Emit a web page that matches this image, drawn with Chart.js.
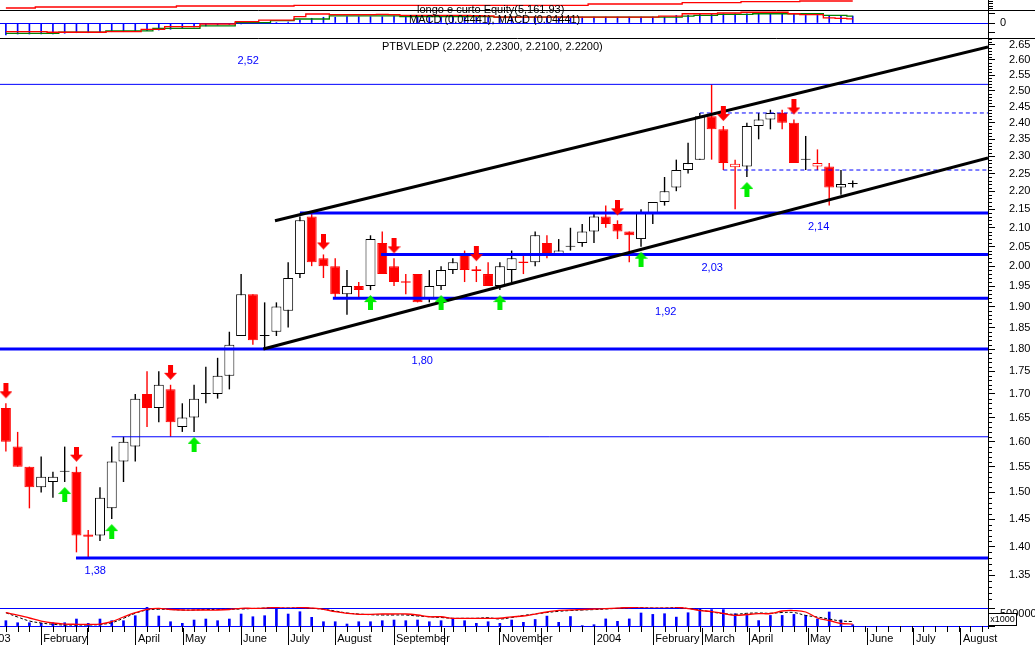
<!DOCTYPE html>
<html>
<head>
<meta charset="utf-8">
<title>PTBVLEDP</title>
<script src="https://cdn.jsdelivr.net/npm/chart.js@4.4.1/dist/chart.umd.min.js"></script>
<style>
  html, body { margin: 0; padding: 0; background: #fff; }
  #box { width: 1035px; height: 645px; }
</style>
</head>
<body>
<div id="box"><canvas id="chart"></canvas></div>
<script>
// weekly bars, index 0 = first week of january 2003
var opens = [1.67,1.59,1.55,1.51,1.52,1.54,1.54,1.422,1.42,1.47,
  1.56,1.59,1.70,1.67,1.71,1.63,1.65,1.70,1.70,1.74,
  1.83,1.93,1.83,1.84,1.89,1.98,2.13,2.02,2.00,1.93,
  1.95,1.95,2.06,2.00,1.962,1.98,1.92,1.95,1.99,2.03,
  1.992,1.98,1.95,1.99,2.012,2.01,2.06,2.03,2.05,2.06,
  2.09,2.13,2.11,2.09,2.07,2.14,2.17,2.21,2.26,2.29,
  2.42,2.38,2.268,2.27,2.39,2.41,2.43,2.40,2.29,2.27,
  2.27,2.21,2.22];
var highs = [1.68,1.62,1.55,1.57,1.54,1.59,1.55,1.43,1.51,1.59,
  1.61,1.70,1.75,1.75,1.72,1.68,1.72,1.76,1.78,1.84,
  1.98,1.93,1.91,1.91,2.01,2.13,2.14,2.03,2.02,1.99,
  1.96,2.08,2.09,2.02,1.98,1.98,1.99,2.00,2.02,2.04,
  2.00,2.01,2.01,2.04,2.03,2.09,2.08,2.07,2.10,2.11,
  2.14,2.16,2.12,2.09,2.15,2.17,2.24,2.29,2.34,2.43,
  2.52,2.39,2.29,2.40,2.43,2.44,2.44,2.41,2.36,2.32,
  2.28,2.26,2.23];
var lows = [1.58,1.55,1.47,1.50,1.49,1.52,1.39,1.38,1.41,1.45,
  1.52,1.56,1.63,1.64,1.61,1.62,1.62,1.68,1.69,1.71,
  1.83,1.81,1.80,1.83,1.85,1.97,2.00,1.97,1.92,1.88,
  1.92,1.94,1.98,1.95,1.93,1.91,1.91,1.94,1.98,1.96,
  1.96,1.95,1.94,1.96,1.98,2.00,2.02,2.03,2.04,2.05,
  2.06,2.10,2.07,2.01,2.05,2.11,2.16,2.20,2.25,2.29,
  2.29,2.26,2.15,2.24,2.35,2.38,2.38,2.28,2.26,2.26,
  2.16,2.19,2.21];
var closes = [1.60,1.55,1.51,1.53,1.53,1.54,1.42,1.418,1.49,1.56,
  1.60,1.69,1.67,1.72,1.64,1.65,1.69,1.70,1.74,1.81,
  1.93,1.82,1.83,1.90,1.97,2.12,2.01,2.00,1.93,1.95,
  1.94,2.07,1.98,1.96,1.958,1.91,1.95,1.99,2.01,1.99,
  1.988,1.95,2.00,2.02,2.008,2.08,2.03,2.04,2.05,2.09,
  2.13,2.11,2.09,2.08,2.14,2.17,2.20,2.26,2.28,2.42,
  2.38,2.28,2.278,2.39,2.41,2.43,2.40,2.28,2.29,2.28,
  2.21,2.22,2.22];

// volume in thousands + two averages
var volumes = [158,99,99,82,99,99,207,82,207,158,
  158,304,566,295,128,82,178,207,158,207,
  353,274,304,549,353,420,257,128,128,61,
  128,128,158,178,158,178,128,158,199,158,
  82,128,82,178,111,193,292,111,280,15,
  41,210,140,210,383,342,362,263,391,491,
  482,482,362,312,161,312,312,342,312,210,
  412,181,41];
var volAvg = [391,324,237,149,91,61,53,53,61,128,
  266,391,491,520,485,470,470,470,470,485,
  520,520,528,549,566,549,528,491,420,374,
  345,345,353,353,353,324,274,274,228,228,
  228,228,230,270,295,353,412,461,470,485,
  499,511,528,543,558,561,561,558,511,455,
  426,368,312,339,362,368,441,455,412,237,
  164,76,61];
var volAvgSlow = [391,266,149,91,53,32,32,32,47,99,
  228,374,470,491,485,470,470,485,485,491,
  499,514,528,558,558,549,520,491,441,383,
  353,333,324,324,324,295,274,251,228,228,
  228,245,207,251,312,353,397,432,455,470,
  482,499,520,537,549,558,558,543,514,470,
  412,365,345,374,383,374,397,397,312,266,
  207,149,134];

// top panes
var macd = [-0.094,-0.094,-0.094,-0.094,-0.100,-0.100,-0.100,-0.100,-0.100,-0.094,
  -0.094,-0.094,-0.068,-0.068,-0.040,-0.040,-0.040,-0.011,-0.011,-0.011,
  0.014,0.014,0.032,0.032,0.032,0.068,0.097,0.097,0.090,0.090,
  0.090,0.090,0.094,0.090,0.083,0.083,0.083,0.083,0.083,0.083,
  0.079,0.076,0.064,0.064,0.064,0.064,0.064,0.064,0.064,0.064,
  0.064,0.064,0.064,0.064,0.064,0.064,0.075,0.075,0.100,0.100,
  0.100,0.108,0.108,0.116,0.116,0.116,0.116,0.100,0.090,0.090,
  0.056,0.051,0.04441];
var macdSignal = [-0.111,-0.111,-0.111,-0.111,-0.111,-0.100,-0.100,-0.100,-0.100,-0.086,
  -0.086,-0.086,-0.086,-0.057,-0.057,-0.057,-0.057,-0.032,-0.032,-0.032,
  0.003,0.003,0.003,0.025,0.025,0.043,0.043,0.043,0.076,0.076,
  0.076,0.076,0.076,0.076,0.068,0.068,0.068,0.068,0.068,0.068,
  0.068,0.068,0.064,0.064,0.064,0.064,0.064,0.064,0.064,0.064,
  0.064,0.064,0.064,0.064,0.064,0.064,0.064,0.064,0.075,0.082,
  0.082,0.093,0.093,0.093,0.100,0.100,0.100,0.100,0.100,0.100,
  0.082,0.082,0.075];
var macdHist = [-0.130,-0.119,-0.119,-0.119,-0.119,-0.111,-0.105,-0.105,-0.105,-0.094,
  -0.094,-0.083,-0.083,-0.076,-0.068,-0.057,-0.043,-0.032,-0.022,-0.016,
  -0.011,-0.005,0,0.005,0.011,0.032,0.051,0.062,0.062,0.068,
  0.068,0.068,0.068,0.076,0.068,0.068,0.068,0.068,0.068,0.068,
  0.068,0.068,0.064,0.064,0.064,0.064,0.064,0.064,0.064,0.064,
  0.064,0.064,0.064,0.064,0.064,0.064,0.064,0.082,0.082,0.100,
  0.100,0.100,0.100,0.100,0.100,0.100,0.100,0.100,0.082,0.082,
  0.082,0.075,0.075];
var equity = [2362,2362,2362,2762,2762,2762,2762,2762,2762,2762,
  2762,2762,2762,2762,2762,3162,3162,3162,3162,3162,
  3162,3162,3162,3162,3162,3400,3400,3400,3400,3400,
  3400,3400,3400,3400,3400,3400,3400,3400,3400,3400,
  3400,3400,3400,3400,3400,3400,3400,3400,3400,3400,
  3962,3962,3962,3962,3962,3962,3962,3962,4482,4482,
  4482,4482,4482,4882,4882,4882,4882,4882,5161.93,5161.93,
  5161.93,5161.93,5161.93];

// signals (week index)
var sellAt = [0, 6, 14, 27, 33, 40, 52, 61, 67];
var buyAt = [5, 9, 16, 31, 37, 42, 54, 63];

// drawn levels: value and week where they start
var supports = [2.14, 2.03, 1.92, 1.80, 1.38];
var supportFrom = [25, 31.9, 27.8, -0.5, 5.96];
var thinLevels = [2.52, 1.61];
var thinFrom = [-0.5, 9];
var dashLevels = [2.43, 2.26];
var dashFrom = [59, 61];
// trend channel: [week, price] pairs
var channelTop = [[22.88, 2.119], [83.5, 2.643]];
var channelBottom = [[21.89, 1.80], [83.5, 2.295]];

// axis ticks
var monthTicks = [-1.85, 3, 6.9, 11.06, 15.06, 20, 24, 28, 33, 37.3, 42, 45.5, 50.06, 55.05, 59.2, 63.2, 68.2, 73.25, 77.2, 81.2];
var monthLabels = ['2003', 'February', '', 'April', 'May', 'June', 'July', 'August', 'September', '', 'November', '', '2004', 'February', 'March', 'April', 'May', 'June', 'July', 'August'];
var priceTicks = [1.35,1.40,1.45,1.50,1.55,1.60,1.65,1.70,1.75,1.80,1.85,1.90,1.95,2.00,2.05,2.10,2.15,2.20,2.25,2.30,2.35,2.40,2.45,2.50,2.55,2.60,2.65];

var FONT = '"Liberation Sans", Arial, sans-serif';
var BLUE = '#0000ff', RED = '#ff0000', GREEN = '#00ee00';
Chart.defaults.font.family = FONT;

function kind(i) {
  var o = opens[i], c = closes[i];
  if (c < o) return 'down';
  if (c === o) return 'flat';
  if (i > 0 && c < closes[i - 1]) return 'weak';
  return 'up';
}
function bodyFill(i) {
  var k = kind(i);
  return k == 'down' ? RED : (k == 'flat' ? '#000' : '#fff');
}
function redish(i) {
  var k = kind(i);
  return k == 'down' || k == 'weak';
}

function arrowIcon(color, down) {
  var c = document.createElement('canvas');
  c.width = 13; c.height = 40;
  var g = c.getContext('2d');
  g.fillStyle = color;
  g.beginPath();
  if (down) {
    g.rect(4, 0, 5, 9);
    g.moveTo(0, 8); g.lineTo(13, 8); g.lineTo(6.5, 15);
  } else {
    g.rect(4, 31, 5, 9);
    g.moveTo(6.5, 25); g.lineTo(13, 32); g.lineTo(0, 32);
  }
  g.closePath();
  g.fill();
  return c;
}

function fitRight(s) {
  s.width = 47;
  s.paddingTop = 0; s.paddingBottom = 0; s.paddingLeft = 0; s.paddingRight = 0;
}

var weeks = opens.map(function (o, i) { return i; });
function series(arr) {
  return arr.map(function (v, i) { return {x: i, y: v}; });
}
function levelSet(vals, from, width, color, dash) {
  return vals.map(function (v, k) {
    return {
      type: 'line', data: [{x: from[k], y: v}, {x: 83.5, y: v}], yAxisID: 'y',
      borderColor: color, borderWidth: width, borderDash: dash || [], pointRadius: 0, order: 4
    };
  });
}
function trend(pts) {
  return {
    type: 'line', data: pts.map(function (p) { return {x: p[0], y: p[1]}; }), yAxisID: 'y',
    borderColor: '#000', borderWidth: 3, pointRadius: 0, order: 3
  };
}

var datasets = [
  { type: 'bar', data: weeks.map(function (i) { return {x: i, y: [lows[i], highs[i]]}; }), yAxisID: 'y',
    barThickness: 1.4, grouped: false, inflateAmount: 0, borderWidth: 0,
    backgroundColor: function (c) { return redish(c.dataIndex) ? RED : '#000'; }, order: 7 },
  { type: 'bar', data: weeks.map(function (i) { return {x: i, y: [opens[i], closes[i]]}; }), yAxisID: 'y',
    barThickness: 10, grouped: false, inflateAmount: 0, minBarLength: 1, borderWidth: 1, borderSkipped: false,
    backgroundColor: function (c) { return bodyFill(c.dataIndex); },
    borderColor: function (c) { return redish(c.dataIndex) ? RED : '#000'; }, order: 6 },
  trend(channelTop),
  trend(channelBottom),
  { type: 'line', data: sellAt.map(function (i) { return {x: i, y: highs[i]}; }), yAxisID: 'y',
    showLine: false, pointStyle: arrowIcon(RED, true), pointRadius: 6, order: 1 },
  { type: 'line', data: buyAt.map(function (i) { return {x: i, y: lows[i]}; }), yAxisID: 'y',
    showLine: false, pointStyle: arrowIcon(GREEN, false), pointRadius: 6, order: 1 },
  { type: 'bar', data: series(volumes), yAxisID: 'vol', barThickness: 2, grouped: false,
    backgroundColor: BLUE, order: 9 },
  { type: 'line', data: series(volAvg), yAxisID: 'vol', borderColor: RED, borderWidth: 1.3,
    pointRadius: 0, tension: 0.4, order: 8 },
  { type: 'line', data: series(volAvgSlow), yAxisID: 'vol', borderColor: '#000', borderWidth: 1,
    borderDash: [3, 2], pointRadius: 0, tension: 0.4, order: 8 },
  { type: 'bar', data: series(macdHist), yAxisID: 'macd', barThickness: 1, grouped: false,
    backgroundColor: BLUE, order: 9 },
  { type: 'line', data: series(macd), yAxisID: 'macd', borderColor: RED, borderWidth: 1.3,
    pointRadius: 0, stepped: 'middle', order: 8 },
  { type: 'line', data: series(macdSignal), yAxisID: 'macd', borderColor: '#008000', borderWidth: 1.3,
    pointRadius: 0, stepped: 'middle', order: 8 },
  { type: 'line', data: series(equity), yAxisID: 'eq', borderColor: RED, borderWidth: 1.3,
    pointRadius: 0, stepped: 'middle', order: 8 }
].concat(levelSet(supports, supportFrom, 3, BLUE))
 .concat(levelSet(thinLevels, thinFrom, 1, BLUE))
 .concat(levelSet(dashLevels, dashFrom, 1, BLUE, [4, 3]));

var paneDecor = {
  id: 'paneDecor',
  afterDatasetsDraw: function (chart, args, opts) {
    var ctx = chart.ctx, xs = chart.scales.x, ys = chart.scales.y;
    ctx.save();
    ctx.fillStyle = BLUE;
    ctx.font = '11px ' + FONT;
    ctx.textAlign = 'center';
    ctx.textBaseline = 'middle';
    opts.levelLabels.forEach(function (l) {
      ctx.fillText(l.value.toFixed(2).replace('.', ','), xs.getPixelForValue(l.at), ys.getPixelForValue(l.value) + l.dy);
    });
    ctx.restore();
  },
  afterDraw: function (chart) {
    var ctx = chart.ctx, s = chart.scales, area = chart.chartArea;
    ctx.save();
    ctx.strokeStyle = '#000';
    ctx.lineWidth = 1;
    ctx.beginPath();
    [s.macd.top, s.y.top].forEach(function (t) {
      var yy = Math.round(t) + 0.5;
      ctx.moveTo(0, yy); ctx.lineTo(chart.width, yy);
    });
    // minor price ticks
    for (var k = 130; k <= 267; k++) {
      if (k % 5 === 0) continue;
      var py = s.y.getPixelForValue(k / 100);
      if (py < s.y.top || py > s.y.bottom) continue;
      py = Math.round(py) + 0.5;
      ctx.moveTo(s.y.left, py); ctx.lineTo(s.y.left + 4, py);
    }
    // weekly ticks
    for (var w = 0; w <= 83; w++) {
      var px = Math.round(s.x.getPixelForValue(w)) + 0.5;
      ctx.moveTo(px, area.bottom - 2); ctx.lineTo(px, area.bottom + 4);
    }
    ctx.stroke();

    ctx.fillStyle = '#000';
    ctx.font = '11px ' + FONT;
    ctx.textAlign = 'left';
    ctx.textBaseline = 'middle';
    var n = closes.length - 1;
    ctx.fillText('longo e curto Equity(' + equity[n].toLocaleString('en-US', {minimumFractionDigits: 2}) + ')', 417, s.eq.bottom);
    var m = 'MACD (' + macd[n].toFixed(5) + ')';
    ctx.fillText(m + ', ' + m, 409, (s.macd.top + s.macd.bottom) / 2 - 4.5);
    ctx.fillText('PTBVLEDP (' + [opens[n], highs[n], lows[n], closes[n]].map(function (v) { return v.toFixed(4); }).join(', ') + ')', 382, s.y.top + 9);

    // volume multiplier box
    ctx.fillStyle = '#fff';
    ctx.fillRect(989, 614, 27, 11);
    ctx.strokeRect(988.5, 613.5, 28, 12);
    ctx.fillStyle = '#000';
    ctx.font = '9px ' + FONT;
    ctx.textAlign = 'center';
    ctx.fillText('x1000', 1002.5, 620);
    ctx.restore();
  }
};

new Chart(document.getElementById('chart'), {
  type: 'line',
  data: { datasets: datasets },
  plugins: [paneDecor],
  options: {
    responsive: true,
    maintainAspectRatio: false,
    devicePixelRatio: 1,
    animation: false,
    events: [],
    layout: { padding: 0, autoPadding: false },
    plugins: {
      legend: { display: false },
      tooltip: { enabled: false },
      paneDecor: {
        levelLabels: [
          {value: 2.52, at: 20.6, dy: -23},
          {value: 2.14, at: 69.1, dy: 14},
          {value: 2.03, at: 60.05, dy: 14},
          {value: 1.92, at: 56.1, dy: 14},
          {value: 1.80, at: 35.4, dy: 12},
          {value: 1.38, at: 7.6, dy: 13}
        ]
      }
    },
    scales: {
      x: {
        type: 'linear', min: -0.5, max: 83.5, bounds: 'data', offset: false,
        afterBuildTicks: function (s) { s.ticks = monthTicks.map(function (v) { return {value: v}; }); },
        afterFit: function (s) { s.height = 17; s.paddingLeft = 0; s.paddingRight = 0; },
        grid: { drawOnChartArea: false, tickLength: 17, tickColor: '#000', offset: false },
        border: { display: false },
        ticks: {
          autoSkip: false, maxRotation: 0, minRotation: 0, align: 'start', padding: -13, labelOffset: 2,
          color: '#000', font: { size: 11 },
          callback: function (v, i) { return monthLabels[i]; }
        }
      },
      eq: {
        axis: 'y', position: 'right', stack: 'panes', stackWeight: 10, bounds: 'data',
        min: 1562, max: 5562,
        afterBuildTicks: function (s) { s.ticks = [{value: 2000}, {value: 3000}, {value: 4000}, {value: 5000}]; },
        afterFit: fitRight,
        grid: { drawOnChartArea: false, tickLength: 5, tickColor: '#000' },
        border: { color: '#000' },
        ticks: { autoSkip: false, callback: function () { return ''; } }
      },
      macd: {
        axis: 'y', position: 'right', stack: 'panes', stackWeight: 28, bounds: 'data',
        min: -0.162, max: 0.1404,
        afterBuildTicks: function (s) { s.ticks = [{value: -0.1}, {value: 0}, {value: 0.1}]; },
        afterFit: fitRight,
        grid: {
          drawOnChartArea: true, tickLength: 7, tickColor: '#000',
          color: function (c) { return c.tick && c.tick.value === 0 ? BLUE : 'rgba(0,0,0,0)'; }
        },
        border: { color: '#000' },
        ticks: { autoSkip: false, padding: 5, color: '#000', font: { size: 11 }, callback: function (v) { return v === 0 ? '0' : ''; } }
      },
      y: {
        type: 'logarithmic', position: 'right', stack: 'panes', stackWeight: 569, bounds: 'data',
        min: 1.2967, max: 2.673,
        afterBuildTicks: function (s) { s.ticks = priceTicks.map(function (v) { return {value: v}; }); },
        afterFit: fitRight,
        grid: { drawOnChartArea: false, tickLength: 7, tickColor: '#000' },
        border: { color: '#000' },
        ticks: { autoSkip: false, padding: 14, color: '#000', font: { size: 11 }, callback: function (v) { return v.toFixed(2); } }
      },
      vol: {
        axis: 'y', position: 'right', stack: 'panes', stackWeight: 21, bounds: 'data',
        min: -55, max: 558,
        afterBuildTicks: function (s) { s.ticks = [{value: 0}, {value: 500}]; },
        afterFit: fitRight,
        grid: { drawOnChartArea: true, tickLength: 7, color: BLUE, tickColor: '#000' },
        border: { color: '#000' },
        ticks: { autoSkip: false, padding: 5, labelOffset: 5, color: '#000', font: { size: 11 }, callback: function (v) { return v === 500 ? '500000' : ''; } }
      }
    }
  }
});
</script>
</body>
</html>
